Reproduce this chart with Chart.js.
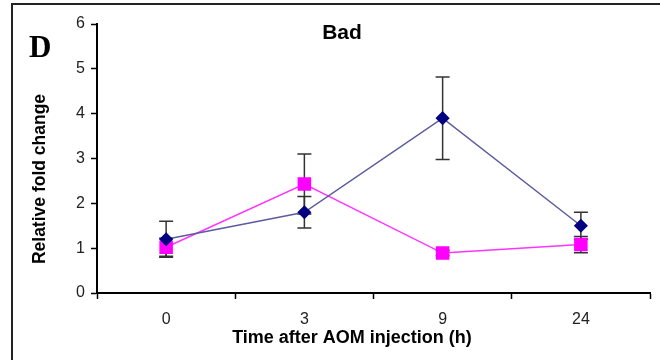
<!DOCTYPE html>
<html>
<head>
<meta charset="utf-8">
<script src="https://cdn.jsdelivr.net/npm/chart.js@4"></script>
<style>
  body { margin: 0; background: #fff; }
  #wrap { position: relative; width: 660px; height: 360px; }
  #frame { position: absolute; left: 11px; top: 3px; width: 700px; height: 400px;
           border-top: 2px solid #222; border-left: 2px solid #222; }
</style>
</head>
<body>
<div id="wrap">
  <div id="frame"></div>
  <canvas id="myChart" width="660" height="360"></canvas>
</div>
<script>
const ctx = document.getElementById('myChart');

// data
const hours = ['0', '3', '9', '24'];
const badA = [1.2, 1.8, 3.9, 1.5];
const badAErr = [0.4, 0.35, 0.92, 0.3];
const badB = [1.02, 2.43, 0.89, 1.08];
const badBErr = [0.2, 0.67, 0.06, 0.18];
const yTicks = [0, 1, 2, 3, 4, 5, 6];

const FONT = '"Liberation Sans", Arial, sans-serif';

// error bars, drawn behind the markers
const errorBars = {
  id: 'errorBars',
  beforeDatasetsDraw(chart) {
    const c = chart.ctx;
    const y = chart.scales.y;
    c.save();
    c.strokeStyle = '#333';
    c.lineWidth = 1.5;
    chart.data.datasets.forEach(function(ds, i) {
      const meta = chart.getDatasetMeta(i);
      meta.data.forEach(function(pt, j) {
        const e = ds.err[j];
        const top = y.getPixelForValue(ds.data[j] + e);
        const bot = y.getPixelForValue(ds.data[j] - e);
        c.beginPath();
        c.moveTo(pt.x, top); c.lineTo(pt.x, bot);
        c.moveTo(pt.x - 7, top); c.lineTo(pt.x + 7, top);
        c.moveTo(pt.x - 7, bot); c.lineTo(pt.x + 7, bot);
        c.stroke();
      });
    });
    c.restore();
  }
};

// panel letter, title and axis titles
const labels = {
  id: 'labels',
  afterDraw(chart) {
    const c = chart.ctx;
    c.save();
    c.fillStyle = '#000';
    c.textBaseline = 'alphabetic';

    c.font = 'bold 31px "Liberation Serif", "Times New Roman", serif';
    c.textAlign = 'left';
    c.fillText('D', 29, 57);

    c.font = 'bold 21px ' + FONT;
    c.textAlign = 'center';
    c.fillText('Bad', 342, 39);

    c.font = 'bold 18px ' + FONT;
    c.fillText('Time after AOM injection (h)', 352, 343);

    c.font = 'bold 17.5px ' + FONT;
    c.translate(45, 179);
    c.rotate(-Math.PI / 2);
    c.fillText('Relative fold change', 0, 0);
    c.restore();
  }
};

new Chart(ctx, {
  type: 'line',
  data: {
    labels: hours,
    datasets: [{
      data: badA,
      err: badAErr,
      borderColor: '#5c5c9e',
      borderWidth: 1.5,
      pointStyle: 'rectRot',
      pointRadius: 6,
      pointBackgroundColor: '#000080',
      pointBorderColor: '#000080',
      tension: 0
    }, {
      data: badB,
      err: badBErr,
      borderColor: '#ff33ff',
      borderWidth: 1.5,
      pointStyle: 'rect',
      pointRadius: 8.5,
      pointBackgroundColor: '#ff00ff',
      pointBorderColor: '#ff00ff',
      tension: 0
    }]
  },
  options: {
    responsive: false,
    animation: false,
    layout: { padding: { left: 0, right: 10, top: 24, bottom: 0 } },
    plugins: { legend: { display: false }, tooltip: { enabled: false } },
    scales: {
      x: {
        offset: true,
        grid: { offset: true, drawOnChartArea: false, tickLength: 6, color: '#000', tickWidth: 1.5 },
        border: { color: '#000', width: 2 },
        ticks: { color: '#222', font: { family: FONT, size: 16 }, padding: 11 },
        afterFit(s) { s.height = 67; }
      },
      y: {
        min: 0,
        max: 6,
        afterBuildTicks(s) { s.ticks = yTicks.map(v => ({ value: v })); },
        grid: { drawOnChartArea: false, tickLength: 6, color: '#000', tickWidth: 1.5 },
        border: { color: '#000', width: 2 },
        ticks: { color: '#222', font: { family: FONT, size: 16 }, padding: 6 },
        afterFit(s) { s.width = 97; }
      }
    }
  },
  plugins: [errorBars, labels]
});
</script>
</body>
</html>
